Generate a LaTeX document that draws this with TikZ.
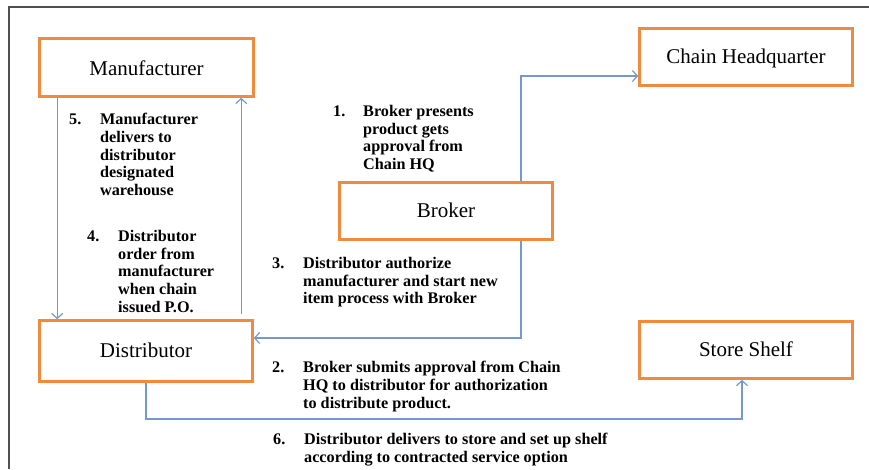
\documentclass[tikz,border=0pt]{standalone}
\usepackage{fontspec}
\setmainfont{Liberation Serif}
\usetikzlibrary{arrows.meta,calc}
\definecolor{boxorange}{HTML}{F08A3C}
\definecolor{arrblue}{HTML}{7399CF}
\definecolor{framegray}{HTML}{505050}
\tikzset{
  box/.style={draw=boxorange,line width=2.6pt,fill=white,minimum width=213pt,minimum height=57pt,inner sep=0pt,text height=14.7pt,text depth=2.5pt,font=\fontsize{21}{24}\selectfont},
  arr/.style={draw=arrblue,line width=1.2pt,-{Straight Barb[length=5pt,width=11pt]}},
  steptxt/.style={anchor=north west,align=left,inner sep=0pt,font=\fontsize{16.2}{17.7}\selectfont\bfseries},
  stepnum/.style={anchor=base west,inner sep=0pt,font=\fontsize{16.2}{17.7}\selectfont\bfseries}
}
\begin{document}
\begin{tikzpicture}[x=1pt,y=-1pt]
\useasboundingbox (0,0) rectangle (869,469);
\draw[framegray,line width=2pt] (9,469) -- (9,7) -- (869,7);
\node[box,minimum height=58pt,minimum width=214pt] (man) at (146.5,67.5) {\raisebox{-2pt}{Manufacturer}};
\node[box] (chq) at (746,57) {Chain Headquarter};
\node[box] (broker) at (446,211) {Broker};
\node[box,minimum height=61pt] (dist) at (146,351) {Distributor\hspace{34pt}};
\node[box] (store) at (746,350) {Store Shelf};
% connectors
\draw[arr] ($(broker.north)+(75,0)$) |- ($(chq.west)+(0,19)$);
\draw[arr] ($(broker.south)+(75,0)$) |- ($(dist.east)+(0,-13)$);
\coordinate (c6) at (742,419);
\draw[arr] (dist.south) |- (c6) -- ($(store.south)+(-4,0)$);
\draw[arr] ($(man.south west)+(19,0)$) -- ($(dist.north west)+(19,0)$);
\draw[arr] ($(dist.north west)+(203,-5)$) -- ($(man.south west)+(203,0)$);
% step labels (text nodes placed by top edge: first baseline minus 11)
\node[stepnum] (n1) at (333,116) {1.};
\node[steptxt] (t1) at (363,105) {Broker presents\\product gets\\approval from\\Chain HQ};
\node[stepnum] (n2) at (272,372) {2.};
\node[steptxt] (t2) at (303,361) {Broker submits approval from Chain\\HQ to distributor for authorization\\to distribute product.};
\node[stepnum] (n3) at (272,268) {3.};
\node[steptxt] (t3) at (303,257) {Distributor authorize\\manufacturer and start new\\item process with Broker};
\node[stepnum] (n4) at (87,241) {4.};
\node[steptxt] (t4) at (118,230) {Distributor\\order from\\manufacturer\\when chain\\issued P.O.};
\node[stepnum] (n5) at (69,124) {5.};
\node[steptxt] (t5) at (100,113) {Manufacturer\\delivers to\\distributor\\designated\\warehouse};
\node[stepnum] (n6) at (273,444) {6.};
\node[steptxt] (t6) at (304,433) {Distributor delivers to store and set up shelf\\according to contracted service option};
\end{tikzpicture}
\end{document}
